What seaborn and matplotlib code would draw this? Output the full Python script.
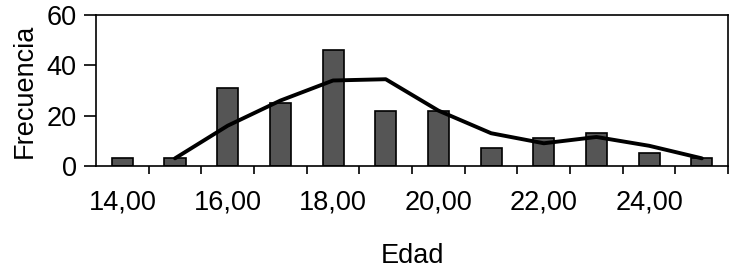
import numpy as np
import pandas as pd
import seaborn as sns
import matplotlib.pyplot as plt
from matplotlib.ticker import FixedLocator, FixedFormatter

edad = [14, 15, 16, 17, 18, 19, 20, 21, 22, 23, 24, 25]
frecuencia = [3, 3, 31, 25, 46, 22, 22, 7, 11, 13, 5, 3]
# smoothed curve, starts at 15
curva_edad = [15, 16, 17, 18, 19, 20, 21, 22, 23, 24, 25]
curva = [3, 16, 26, 34, 34.5, 22, 13, 9, 11.5, 8, 3]

sns.set_style("ticks")
plt.rcParams['font.family'] = ['Liberation Sans', 'DejaVu Sans']
plt.rcParams['text.color'] = 'black'
plt.rcParams['axes.labelcolor'] = 'black'
plt.rcParams['xtick.color'] = 'black'
plt.rcParams['ytick.color'] = 'black'

data = pd.DataFrame({"edad": edad, "frecuencia": frecuencia})
pos = {e: i for i, e in enumerate(edad)}

fig = plt.figure(figsize=(7.3, 2.76), dpi=100)
ax = fig.add_axes([0.1315, 0.399, 0.866, 0.546])

sns.barplot(data=data, x="edad", y="frecuencia", color="#555555",
            width=0.4, edgecolor="black", linewidth=1.2, saturation=1, ax=ax)
sns.lineplot(x=[pos[e] for e in curva_edad], y=curva, color="black",
             linewidth=2.8, ax=ax)

ax.set_xlim(-0.5, len(edad) - 0.5)
ax.set_ylim(0, 60)
ax.set_yticks([0, 20, 40, 60])

# ticks between categories, labels every other category
ax.xaxis.set_major_locator(FixedLocator(np.arange(0.5, len(edad), 1)))
ax.xaxis.set_major_formatter(FixedFormatter([]))
ax.xaxis.set_minor_locator(FixedLocator(np.arange(0, len(edad), 2)))
ax.xaxis.set_minor_formatter(FixedFormatter([f"{e},00" for e in edad[::2]]))
ax.tick_params(axis="x", which="major", direction="out", length=6, width=1.2)
ax.tick_params(axis="x", which="minor", length=0, pad=17, labelsize=19.5)
ax.tick_params(axis="y", direction="out", length=9, width=1.2, pad=5, labelsize=19.5)

for s in ax.spines.values():
    s.set_visible(True)
    s.set_linewidth(1.2)
    s.set_color("black")

ax.set_xlabel("Edad", fontsize=19.5, labelpad=20)
ax.set_ylabel("Frecuencia", fontsize=19.5, labelpad=6)

fig.savefig("out.png", dpi=100)
